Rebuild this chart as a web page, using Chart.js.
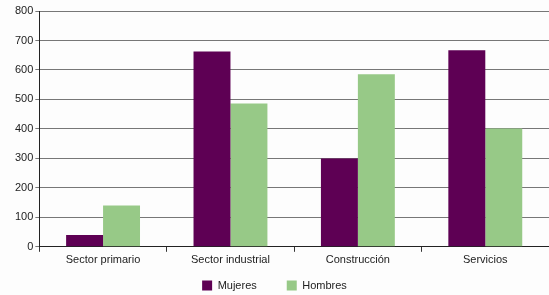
<!DOCTYPE html>
<html>
<head>
<meta charset="utf-8">
<script src="https://cdn.jsdelivr.net/npm/chart.js@4"></script>
<style>
  html, body { margin: 0; padding: 0; background: #fdfdfd; }
  #chart { display: block; }
</style>
</head>
<body>
<canvas id="chart" width="549" height="295"></canvas>
<script>
const categories = ['Sector primario', 'Sector industrial', 'Construcción', 'Servicios'];
const mujeres = [40, 663, 300, 667];
const hombres = [140, 486, 585, 401];

const ctx = document.getElementById('chart').getContext('2d');

// the legend keeps wide gaps between items but sits close under the axis
const legendShift = {
  id: 'legendShift',
  afterLayout(chart) {
    const lg = chart.legend;
    lg.top = chart.height - 45;
    lg.bottom = chart.height;
    lg.height = 45;
    lg.left = 0;
    lg.right = chart.width;
    lg.width = chart.width;
  }
};

new Chart(ctx, {
  type: 'bar',
  data: {
    labels: categories,
    datasets: [
      { label: 'Mujeres', data: mujeres, backgroundColor: '#5e0054' },
      { label: 'Hombres', data: hombres, backgroundColor: '#97c987' }
    ]
  },
  options: {
    responsive: false,
    animation: false,
    layout: { padding: { top: 11, right: 0, left: 13, bottom: 0 } },
    datasets: {
      bar: { barPercentage: 1, categoryPercentage: 0.58 }
    },
    plugins: {
      legend: {
        position: 'bottom',
        maxHeight: 26,
        labels: {
          boxWidth: 10,
          boxHeight: 10,
          padding: 30,
          color: '#222',
          font: { family: 'Liberation Sans', size: 11 }
        }
      },
      tooltip: { enabled: false }
    },
    scales: {
      x: {
        grid: { offset: true, drawOnChartArea: false, tickLength: 5, color: '#333' },
        border: { color: '#222' },
        ticks: { color: '#222', font: { family: 'Liberation Sans', size: 11 }, padding: 2 }
      },
      y: {
        min: 0,
        max: 800,
        ticks: { stepSize: 100, color: '#222', font: { family: 'Liberation Sans', size: 11 }, padding: 2 },
        grid: { color: '#777', tickLength: 4 },
        border: { color: '#222' }
      }
    }
  },
  plugins: [legendShift]
});
</script>
</body>
</html>
